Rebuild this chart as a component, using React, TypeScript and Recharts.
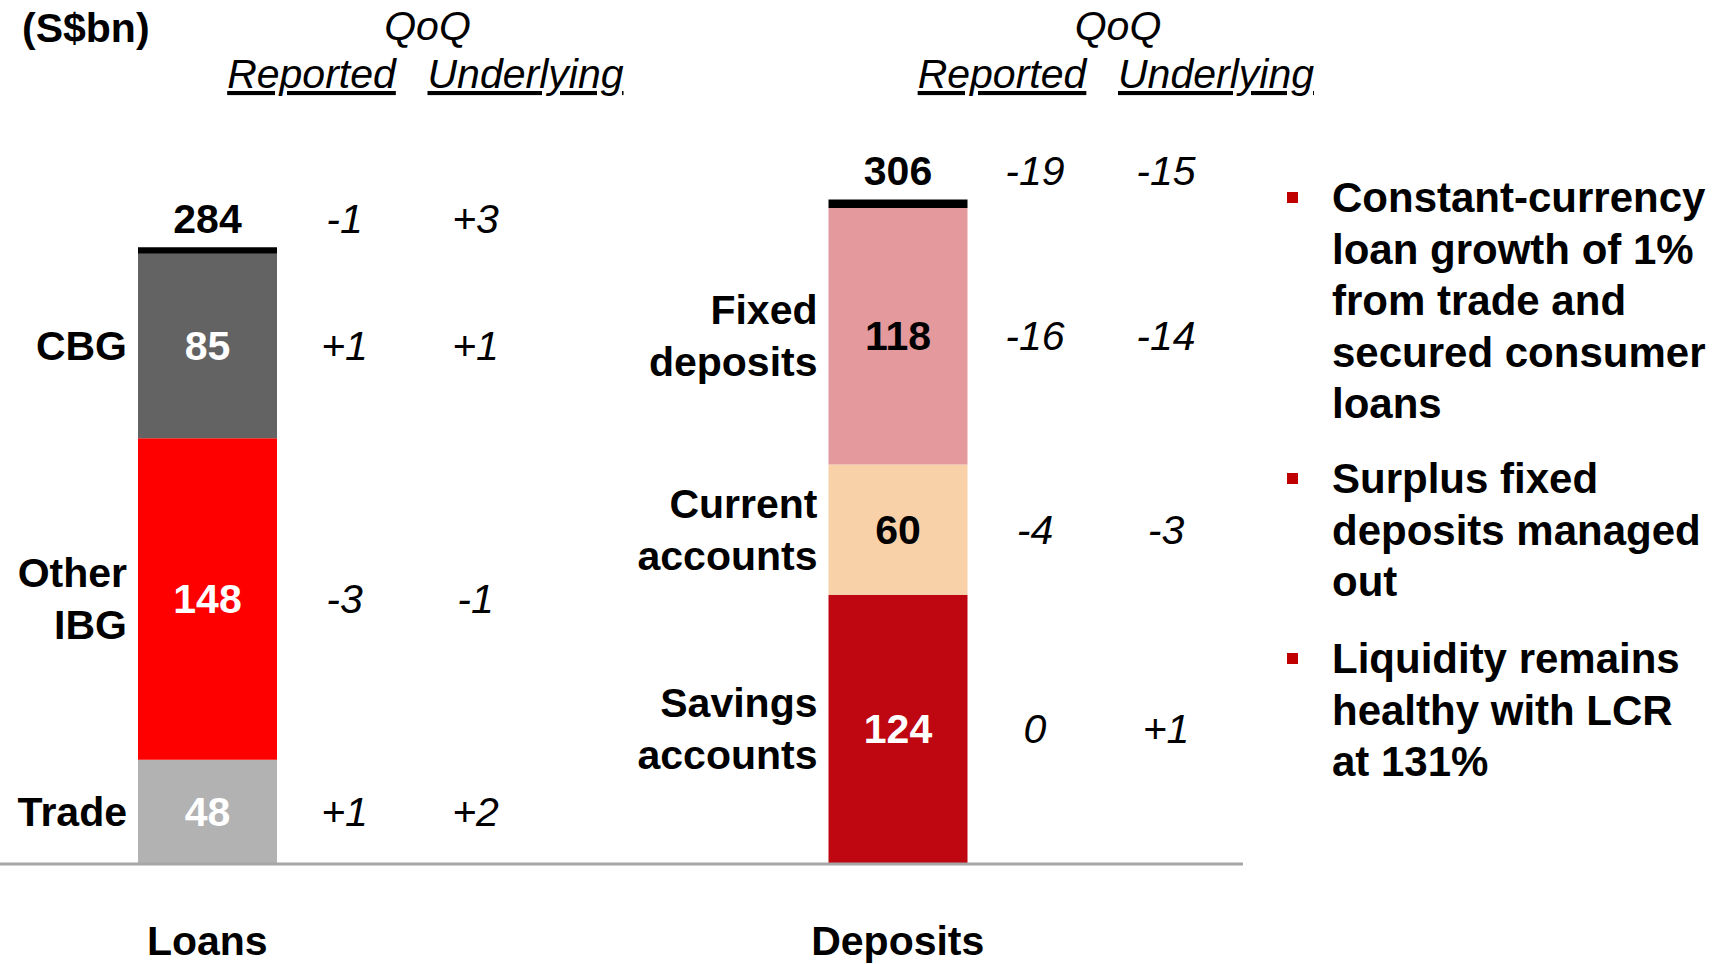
import React from "react";
import { BarChart, Bar, XAxis, YAxis, Cell, LabelList } from "recharts";

// S$bn, stacked bottom -> top
const groups = ["Loans", "Deposits"];

const loanParts = ["Trade", "Other IBG", "CBG"];
const loanValues = [48, 148, 85];
const loanTotal = 284;
const loanReported = [1, -3, 1];
const loanUnderlying = [2, -1, 1];
const loanTotalQoQ = [-1, 3];

const depositParts = ["Savings accounts", "Current accounts", "Fixed deposits"];
const depositValues = [124, 60, 118];
const depositTotal = 306;
const depositReported = [0, -4, -16];
const depositUnderlying = [1, -3, -14];
const depositTotalQoQ = [-19, -15];

const bullets = [
  ["Constant-currency", "loan growth of 1%", "from trade and", "secured consumer", "loans"],
  ["Surplus fixed", "deposits managed", "out"],
  ["Liquidity remains", "healthy with LCR", "at 131%"],
];

const loanColors = ["#B2B2B2", "#FF0000", "#636363", "#000000"];
const depositColors = ["#BE0711", "#F8D1A8", "#E4999D", "#000000"];
const loanText = ["#FFFFFF", "#FFFFFF", "#FFFFFF"];
const depositText = ["#FFFFFF", "#000000", "#000000"];

const parts = [loanParts, depositParts];
const values = [loanValues, depositValues];
const totals = [loanTotal, depositTotal];
const reported = [loanReported, depositReported];
const underlying = [loanUnderlying, depositUnderlying];
const totalQoQ = [loanTotalQoQ, depositTotalQoQ];
const colors = [loanColors, depositColors];
const textColors = [loanText, depositText];

const data = groups.map((name, i) => ({
  name,
  s0: values[i][0],
  s1: values[i][1],
  s2: values[i][2],
  s3: totals[i] - values[i].reduce((a, b) => a + b, 0),
}));

const FONT = "'Liberation Sans', Arial, Helvetica, sans-serif";
const FS = 41;

const fmt = (v: number) => (v > 0 ? "+" + v : String(v));

const segmentLabel = (seg: number) => (props: any) => {
  const { x, y, width, height, index } = props;
  const cx = x + width / 2;
  const base = y + height / 2 + 14;
  const words = parts[index][seg].split(" ");
  return (
    <g fontFamily={FONT} fontSize={FS}>
      <text x={cx} y={base} textAnchor="middle" fontWeight="bold" fill={textColors[index][seg]}>
        {values[index][seg]}
      </text>
      {words.map((w, i) => (
        <text
          key={i}
          x={x - 11}
          y={base + (i - (words.length - 1) / 2) * 52}
          textAnchor="end"
          fontWeight="bold"
          fill="#000"
        >
          {w}
        </text>
      ))}
      <text x={cx + 137} y={base} textAnchor="middle" fontStyle="italic" fill="#000">
        {fmt(reported[index][seg])}
      </text>
      <text x={cx + 268} y={base} textAnchor="middle" fontStyle="italic" fill="#000">
        {fmt(underlying[index][seg])}
      </text>
    </g>
  );
};

const totalLabel = (props: any) => {
  const { x, y, width, index } = props;
  const cx = x + width / 2;
  const base = y - 14;
  return (
    <g fontFamily={FONT} fontSize={FS} fill="#000">
      <text x={cx} y={base} textAnchor="middle" fontWeight="bold">
        {totals[index]}
      </text>
      <text x={cx + 137} y={base} textAnchor="middle" fontStyle="italic">
        {fmt(totalQoQ[index][0])}
      </text>
      <text x={cx + 268} y={base} textAnchor="middle" fontStyle="italic">
        {fmt(totalQoQ[index][1])}
      </text>
      <text x={cx + 220} y={40} textAnchor="middle" fontStyle="italic">
        QoQ
      </text>
      <text x={cx + 104} y={88} textAnchor="middle" fontStyle="italic" textDecoration="underline">
        Reported
      </text>
      <text x={cx + 318} y={88} textAnchor="middle" fontStyle="italic" textDecoration="underline">
        Underlying
      </text>
    </g>
  );
};

const GroupTick = (props: any) => {
  const { x, y, payload } = props;
  return (
    <text x={x} y={y + 91} textAnchor="middle" fontFamily={FONT} fontSize={FS} fontWeight="bold" fill="#000">
      {payload.value}
    </text>
  );
};

const bulletTops = [172, 453, 633];

export default function App() {
  return (
    <div style={{ position: "absolute", left: 0, top: 0, width: 1714, height: 964, background: "#fff", overflow: "hidden" }}>
      <BarChart width={1714} height={964} data={data} margin={{ top: 169, right: 471, bottom: 0, left: -138 }}>
        <YAxis hide domain={[0, 320]} />
        <XAxis
          dataKey="name"
          height={100}
          interval={0}
          tickLine={false}
          tickSize={0}
          tickMargin={0}
          axisLine={{ stroke: "#A6A6A6", strokeWidth: 3 }}
          tick={<GroupTick />}
        />
        {[0, 1, 2, 3].map((seg) => (
          <Bar key={seg} dataKey={"s" + seg} stackId="a" barSize={139} isAnimationActive={false}>
            {data.map((d, i) => (
              <Cell key={d.name} fill={colors[i][seg]} />
            ))}
            <LabelList dataKey={"s" + seg} content={seg < 3 ? segmentLabel(seg) : totalLabel} />
          </Bar>
        ))}
      </BarChart>
      <div style={{ position: "absolute", left: 22, top: 8, fontFamily: FONT, fontSize: FS, fontWeight: "bold", lineHeight: "41px" }}>
        (S$bn)
      </div>
      {bullets.map((lines, i) => (
        <React.Fragment key={i}>
          <div style={{ position: "absolute", left: 1287, top: bulletTops[i] + 20, width: 11, height: 11, background: "#C00000" }} />
          <div
            style={{
              position: "absolute",
              left: 1332,
              top: bulletTops[i],
              fontFamily: FONT,
              fontSize: 42,
              fontWeight: "bold",
              lineHeight: "51.5px",
              whiteSpace: "nowrap",
              color: "#000",
            }}
          >
            {lines.map((l, j) => (
              <div key={j}>{l}</div>
            ))}
          </div>
        </React.Fragment>
      ))}
    </div>
  );
}
